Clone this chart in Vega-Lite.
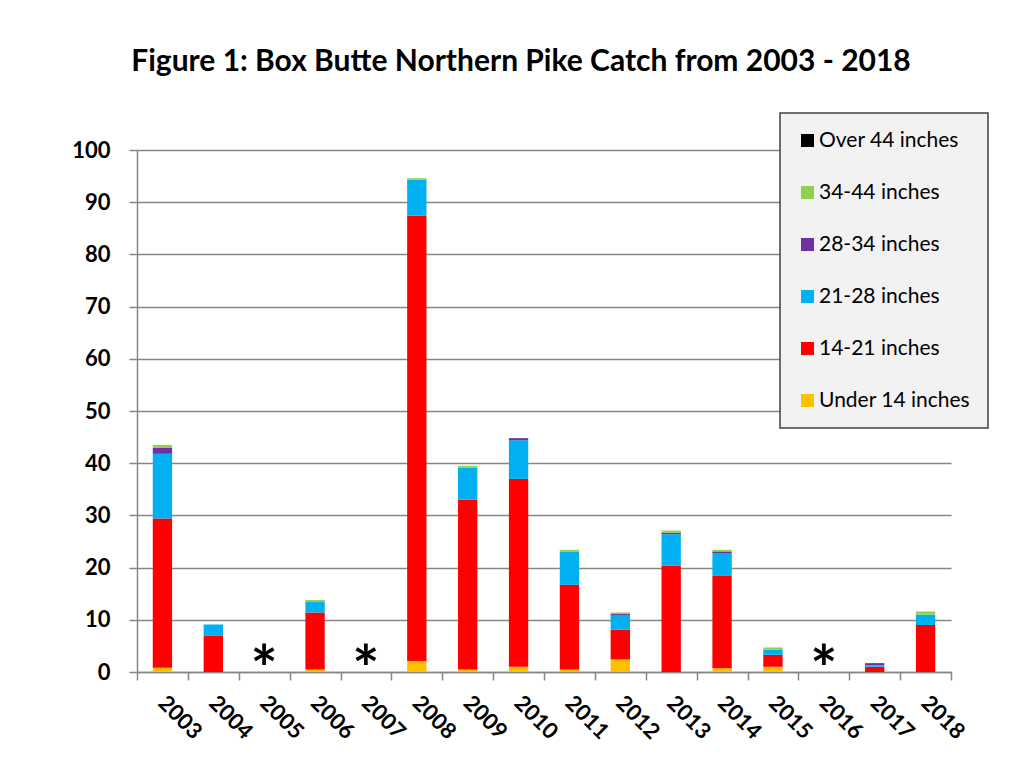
{
  "$schema": "https://vega.github.io/schema/vega-lite/v6.json",
  "width": 814,
  "height": 522,
  "autosize": "none",
  "padding": {"left": 137, "top": 150, "right": 85, "bottom": 99},
  "background": "white",
  "title": {
    "text": "Figure 1: Box Butte Northern Pike Catch from 2003 - 2018",
    "font": "Lato",
    "fontSize": 30,
    "fontWeight": "bold",
    "color": "black",
    "anchor": "middle",
    "frame": "group",
    "baseline": "alphabetic",
    "offset": 11,
    "dx": -23
  },
  "datasets": {
    "catch": [
      {"year": "2003", "size": "Under 14 inches", "min_len": 0, "count": 0.8},
      {"year": "2003", "size": "14-21 inches", "min_len": 14, "count": 28.6},
      {"year": "2003", "size": "21-28 inches", "min_len": 21, "count": 12.4},
      {"year": "2003", "size": "28-34 inches", "min_len": 28, "count": 1.2},
      {"year": "2003", "size": "34-44 inches", "min_len": 34, "count": 0.5},
      {"year": "2004", "size": "14-21 inches", "min_len": 14, "count": 7.0},
      {"year": "2004", "size": "21-28 inches", "min_len": 21, "count": 2.1},
      {"year": "2006", "size": "Under 14 inches", "min_len": 0, "count": 0.5},
      {"year": "2006", "size": "14-21 inches", "min_len": 14, "count": 10.9},
      {"year": "2006", "size": "21-28 inches", "min_len": 21, "count": 2.0},
      {"year": "2006", "size": "34-44 inches", "min_len": 34, "count": 0.4},
      {"year": "2008", "size": "Under 14 inches", "min_len": 0, "count": 2.1},
      {"year": "2008", "size": "14-21 inches", "min_len": 14, "count": 85.3},
      {"year": "2008", "size": "21-28 inches", "min_len": 21, "count": 6.9},
      {"year": "2008", "size": "34-44 inches", "min_len": 34, "count": 0.3},
      {"year": "2009", "size": "Under 14 inches", "min_len": 0, "count": 0.5},
      {"year": "2009", "size": "14-21 inches", "min_len": 14, "count": 32.5},
      {"year": "2009", "size": "21-28 inches", "min_len": 21, "count": 6.1},
      {"year": "2009", "size": "34-44 inches", "min_len": 34, "count": 0.4},
      {"year": "2010", "size": "Under 14 inches", "min_len": 0, "count": 1.0},
      {"year": "2010", "size": "14-21 inches", "min_len": 14, "count": 36.0},
      {"year": "2010", "size": "21-28 inches", "min_len": 21, "count": 7.4},
      {"year": "2010", "size": "28-34 inches", "min_len": 28, "count": 0.4},
      {"year": "2011", "size": "Under 14 inches", "min_len": 0, "count": 0.5},
      {"year": "2011", "size": "14-21 inches", "min_len": 14, "count": 16.2},
      {"year": "2011", "size": "21-28 inches", "min_len": 21, "count": 6.3},
      {"year": "2011", "size": "34-44 inches", "min_len": 34, "count": 0.4},
      {"year": "2012", "size": "Under 14 inches", "min_len": 0, "count": 2.4},
      {"year": "2012", "size": "14-21 inches", "min_len": 14, "count": 5.7},
      {"year": "2012", "size": "21-28 inches", "min_len": 21, "count": 2.7},
      {"year": "2012", "size": "28-34 inches", "min_len": 28, "count": 0.3},
      {"year": "2012", "size": "34-44 inches", "min_len": 34, "count": 0.3},
      {"year": "2013", "size": "14-21 inches", "min_len": 14, "count": 20.4},
      {"year": "2013", "size": "21-28 inches", "min_len": 21, "count": 6.0},
      {"year": "2013", "size": "28-34 inches", "min_len": 28, "count": 0.3},
      {"year": "2013", "size": "34-44 inches", "min_len": 34, "count": 0.4},
      {"year": "2014", "size": "Under 14 inches", "min_len": 0, "count": 0.7},
      {"year": "2014", "size": "14-21 inches", "min_len": 14, "count": 17.7},
      {"year": "2014", "size": "21-28 inches", "min_len": 21, "count": 4.4},
      {"year": "2014", "size": "28-34 inches", "min_len": 28, "count": 0.3},
      {"year": "2014", "size": "34-44 inches", "min_len": 34, "count": 0.3},
      {"year": "2015", "size": "Under 14 inches", "min_len": 0, "count": 1.0},
      {"year": "2015", "size": "14-21 inches", "min_len": 14, "count": 2.3},
      {"year": "2015", "size": "21-28 inches", "min_len": 21, "count": 1.0},
      {"year": "2015", "size": "34-44 inches", "min_len": 34, "count": 0.4},
      {"year": "2017", "size": "14-21 inches", "min_len": 14, "count": 1.0},
      {"year": "2017", "size": "21-28 inches", "min_len": 21, "count": 0.3},
      {"year": "2017", "size": "28-34 inches", "min_len": 28, "count": 0.4},
      {"year": "2018", "size": "14-21 inches", "min_len": 14, "count": 9.0},
      {"year": "2018", "size": "21-28 inches", "min_len": 21, "count": 2.0},
      {"year": "2018", "size": "34-44 inches", "min_len": 34, "count": 0.6}
    ],
    "not_sampled": [
      {"year": "2005", "note": "*"},
      {"year": "2007", "note": "*"},
      {"year": "2016", "note": "*"}
    ]
  },
  "layer": [
    {
      "data": {"name": "catch"},
      "mark": {"type": "bar", "width": {"band": 0.38}},
      "encoding": {
        "x": {
          "field": "year",
          "type": "nominal",
          "title": null,
          "scale": {
            "domain": ["2003", "2004", "2005", "2006", "2007", "2008", "2009", "2010", "2011", "2012", "2013", "2014", "2015", "2016", "2017", "2018"],
            "paddingInner": 0,
            "paddingOuter": 0
          },
          "axis": {
            "tickBand": "extent",
            "grid": false,
            "labelAngle": 45,
            "labelAlign": "left",
            "labelBaseline": "top",
            "labelPadding": 12,
            "labelOffset": 6,
            "tickSize": 8,
            "tickColor": "#868686",
            "tickWidth": 1.5,
            "domainColor": "#868686",
            "domainWidth": 1.5,
            "labelFont": "Lato",
            "labelFontWeight": "bold",
            "labelFontSize": 22,
            "labelColor": "black"
          }
        },
        "y": {
          "field": "count",
          "type": "quantitative",
          "stack": "zero",
          "title": null,
          "scale": {"domain": [0, 100], "nice": false},
          "axis": {
            "values": [0, 10, 20, 30, 40, 50, 60, 70, 80, 90, 100],
            "grid": true,
            "gridColor": "#868686",
            "gridWidth": 1.5,
            "tickSize": 8,
            "tickColor": "#868686",
            "tickWidth": 1.5,
            "domainColor": "#868686",
            "domainWidth": 1.5,
            "labelPadding": 19,
            "labelFont": "Lato",
            "labelFontWeight": "bold",
            "labelFontSize": 22,
            "labelColor": "black"
          }
        },
        "color": {
          "field": "size",
          "type": "nominal",
          "scale": {
            "domain": ["Over 44 inches", "34-44 inches", "28-34 inches", "21-28 inches", "14-21 inches", "Under 14 inches"],
            "range": ["#000000", "#92d050", "#7030a0", "#00b0f0", "#ff0000", "#ffc000"]
          },
          "legend": {
            "title": null,
            "orient": "none",
            "legendX": 643,
            "legendY": -37,
            "symbolType": "square",
            "symbolSize": 169,
            "symbolStrokeWidth": 0,
            "labelFont": "Lato",
            "labelFontSize": 21,
            "labelColor": "black",
            "labelOffset": 1,
            "fillColor": "#f2f2f2",
            "strokeColor": "#404040",
            "padding": 17,
            "rowPadding": 30,
            "encode": {"legend": {"update": {"strokeWidth": {"value": 1.5}}}}
          }
        },
        "order": {"field": "min_len", "type": "quantitative", "sort": "ascending"}
      }
    },
    {
      "data": {"name": "not_sampled"},
      "mark": {
        "type": "text",
        "font": "Lato",
        "fontWeight": "bold",
        "fontSize": 64,
        "color": "black",
        "baseline": "alphabetic",
        "align": "center",
        "dy": 20
      },
      "encoding": {
        "x": {"field": "year", "type": "nominal"},
        "y": {"datum": 0, "type": "quantitative"},
        "text": {"field": "note"}
      }
    }
  ],
  "config": {
    "view": {"stroke": null}
  }
}
